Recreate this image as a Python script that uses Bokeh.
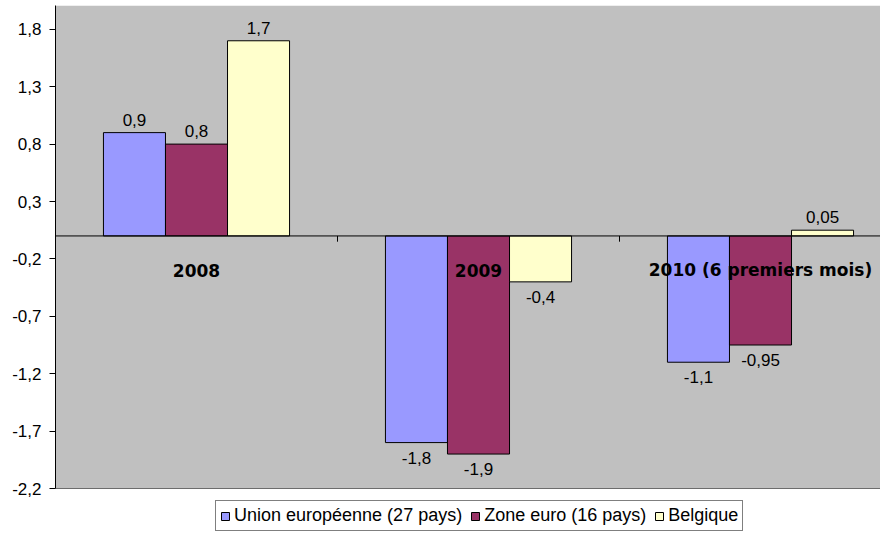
from bokeh.plotting import figure
from bokeh.models import (ColumnDataSource, Range1d, FixedTicker, CustomJSTickFormatter,
                          Legend, LegendItem, Span, BoxAnnotation)
from bokeh.core.properties import value
from bokeh.embed import file_html
from bokeh.resources import INLINE

categories = ["2008", "2009", "2010 (6 premiers mois)"]
series_names = ["Union européenne (27 pays)", "Zone euro (16 pays)", "Belgique"]
ue27 = [0.9, -1.8, -1.1]
zone_euro = [0.8, -1.9, -0.95]
belgique = [1.7, -0.4, 0.05]
y_ticks = [-2.2, -1.7, -1.2, -0.7, -0.2, 0.3, 0.8, 1.3, 1.8]

colors = ["#9999FF", "#993366", "#FFFFCC"]
series = [ue27, zone_euro, belgique]
bar_w = 0.22
offsets = [-bar_w, 0.0, bar_w]

PX = 114.8                      # pixels per y unit
y_min = y_ticks[0]
y_top = y_min + 483 / PX        # plot area top
y_bot = y_min - 43 / PX         # extra room below for the legend

p = figure(width=880, height=531, output_backend="svg", toolbar_location=None,
           x_range=Range1d(0, 825 / 282), y_range=Range1d(y_bot, y_top),
           min_border_left=55, min_border_right=0, min_border_top=5, min_border_bottom=0)
p.background_fill_color = "white"
p.border_fill_color = "white"
p.outline_line_color = None
p.xaxis.visible = False
p.xgrid.visible = False

p.add_layout(BoxAnnotation(bottom=y_min, top=y_top, fill_color="#C0C0C0", fill_alpha=1,
                           line_color=None, level="underlay"))

p.yaxis.ticker = FixedTicker(ticks=y_ticks)
p.yaxis.bounds = (y_min, y_top)
p.yaxis.formatter = CustomJSTickFormatter(code="return tick.toFixed(1).replace('.', ',');")
p.yaxis.minor_tick_line_color = None
p.yaxis.major_tick_in = 0
p.yaxis.major_tick_out = 6
p.yaxis.major_tick_line_color = "black"
p.yaxis.axis_line_color = "black"
p.yaxis.major_label_text_font = "Liberation Sans"
p.yaxis.major_label_text_font_size = "17px"
p.yaxis.major_label_text_color = "black"
p.yaxis.major_label_standoff = 8
p.ygrid.ticker = FixedTicker(ticks=y_ticks)
p.ygrid.grid_line_color = "#1a1a1a"
p.ygrid.grid_line_width = 1

# zero line and category separators
p.add_layout(Span(location=0, dimension="width", line_color="black", line_width=1))
bounds = list(range(1, len(categories)))
p.segment(x0=bounds, x1=bounds, y0=[0] * len(bounds), y1=[-0.05] * len(bounds),
          line_color="black", line_width=1)

items = []
pos = dict(x=[], y=[], t=[])
neg = dict(x=[], y=[], t=[])
for s, vals, col, off in zip(series_names, series, colors, offsets):
    xs = [i + 0.5 + off for i in range(len(categories))]
    src = ColumnDataSource(dict(x=xs, top=vals))
    r = p.vbar(x="x", top="top", bottom=0, width=bar_w, source=src,
               fill_color=col, line_color="black", line_width=1)
    items.append(LegendItem(label=s, renderers=[r]))
    for x, v in zip(xs, vals):
        d = pos if v >= 0 else neg
        d["x"].append(x)
        d["y"].append(v)
        d["t"].append(str(v).replace(".", ","))

p.text(x="x", y="y", text="t", source=ColumnDataSource(pos), text_align="center",
       text_baseline="bottom", y_offset=-7, text_font=value("Liberation Sans"),
       text_font_size="17px", text_color="black")
p.text(x="x", y="y", text="t", source=ColumnDataSource(neg), text_align="center",
       text_baseline="top", y_offset=9, text_font=value("Liberation Sans"),
       text_font_size="17px", text_color="black")

p.text(x=[i + 0.5 for i in range(len(categories))], y=[-0.3] * len(categories),
       text=categories, text_align="center", text_baseline="middle",
       text_font=value("DejaVu Sans"), text_font_style="bold", text_font_size="17px",
       text_color="black")

legend = Legend(items=items, orientation="horizontal", location=(160, 0))
legend.label_text_font = "Liberation Sans"
legend.label_text_font_size = "18px"
legend.label_text_color = "black"
legend.glyph_width = 10
legend.glyph_height = 10
legend.label_standoff = 4
legend.spacing = 8
legend.padding = 4
legend.margin = 0
legend.border_line_color = "black"
legend.border_line_width = 1
legend.background_fill_color = "white"
legend.label_height = 18
p.add_layout(legend)

open("out.html", "w").write(file_html(p, INLINE))
